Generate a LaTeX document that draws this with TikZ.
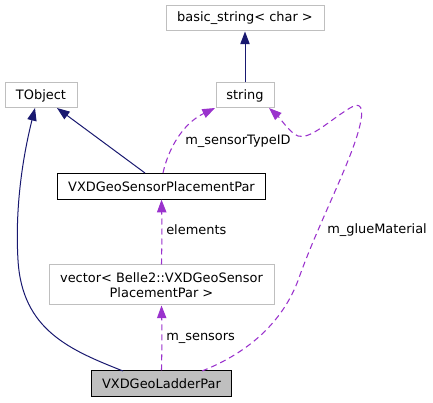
\documentclass[tikz,border=0pt]{standalone}
\usepackage{fontspec}
\setmainfont{DejaVu Sans}
\usetikzlibrary{arrows.meta,calc}
\definecolor{navyedge}{HTML}{191970}
\definecolor{purpedge}{HTML}{9A32CD}
\definecolor{boxgray}{HTML}{BFBFBF}
\begin{document}
\begin{tikzpicture}[x=0.75pt,y=-0.75pt,
  font=\fontsize{9.7}{11.6}\selectfont,
  classbox/.style={draw=boxgray, line width=0.75pt, inner sep=0pt, minimum height=18.75pt, align=center},
  mainbox/.style={draw=black, line width=0.75pt, inner sep=0pt, minimum height=19pt, align=center},
  inherit/.style={draw=navyedge, line width=0.75pt, -{Triangle[length=9.5pt,width=7pt]}, navyedge},
  usage/.style={draw=purpedge, line width=0.8pt, dash pattern=on 4.5pt off 3pt, -{Triangle[length=9.5pt,width=7pt]}, purpedge},
  elabel/.style={inner sep=0pt, text=black}]
\useasboundingbox (0,0) rectangle (433,403);
\node[classbox, minimum width=118.5pt] (bs) at (245,18.5) {basic\_string< char >};
\node[classbox, minimum width=43.5pt] (str) at (245,95.5) {string};
\node[classbox, minimum width=54pt] (tobj) at (41,95.5) {TObject};
\node[mainbox, minimum width=156pt] (sp) at (161.5,186.5) {VXDGeoSensorPlacementPar};
\node[classbox, minimum width=168.75pt, minimum height=30pt] (vec) at (161.5,285) {vector< Belle2::VXDGeoSensor\\PlacementPar >};
\node[mainbox, fill=boxgray, minimum width=105pt] (lad) at (161.5,383.5) {VXDGeoLadderPar};

\coordinate (spTL) at (145,173);
\coordinate (spTR) at (163,173);
\coordinate (ladL) at (123,371);
\coordinate (ladR) at (202,371);
\coordinate (tobjA) at (57,108);
\coordinate (tobjB) at (35,108);
\coordinate (strA) at (215,108);
\coordinate (strB) at (269,108);

\draw[inherit] (str) -- (bs);
\draw[inherit] (spTL) -- (tobjA);
\draw[inherit] (ladL) .. controls (70,350) and (22,330) .. (18,260) .. controls (15,210) and (22,160) .. (tobjB);
\draw[usage] (spTR) .. controls (168,150) and (182,124) .. (strA);
\draw[usage] (vec.north) .. controls ([xshift=0.4pt]$(vec.north)!0.5!(sp.south)$) .. (sp.south);
\draw[usage] (lad.north) .. controls ([xshift=0.4pt]$(lad.north)!0.5!(vec.south)$) .. (vec.south);
\draw[usage] (ladR) .. controls (250,352) and (285,320) .. (300,275) .. controls (320,220) and (352,160) .. (360,125) .. controls (364,108) and (361,101) .. (350,108) .. controls (330,120) and (310,140) .. (298,136) .. controls (290,133) and (280,118) .. (strB);

\node[elabel, anchor=west] (l1) at (185,141) {m\_sensorTypeID};
\node[elabel, anchor=west] (l2) at (166,230) {elements};
\node[elabel, anchor=west] (l3) at (166,338) {m\_sensors};
\node[elabel, anchor=west] (l4) at (327,230) {m\_glueMaterial};
\end{tikzpicture}
\end{document}
